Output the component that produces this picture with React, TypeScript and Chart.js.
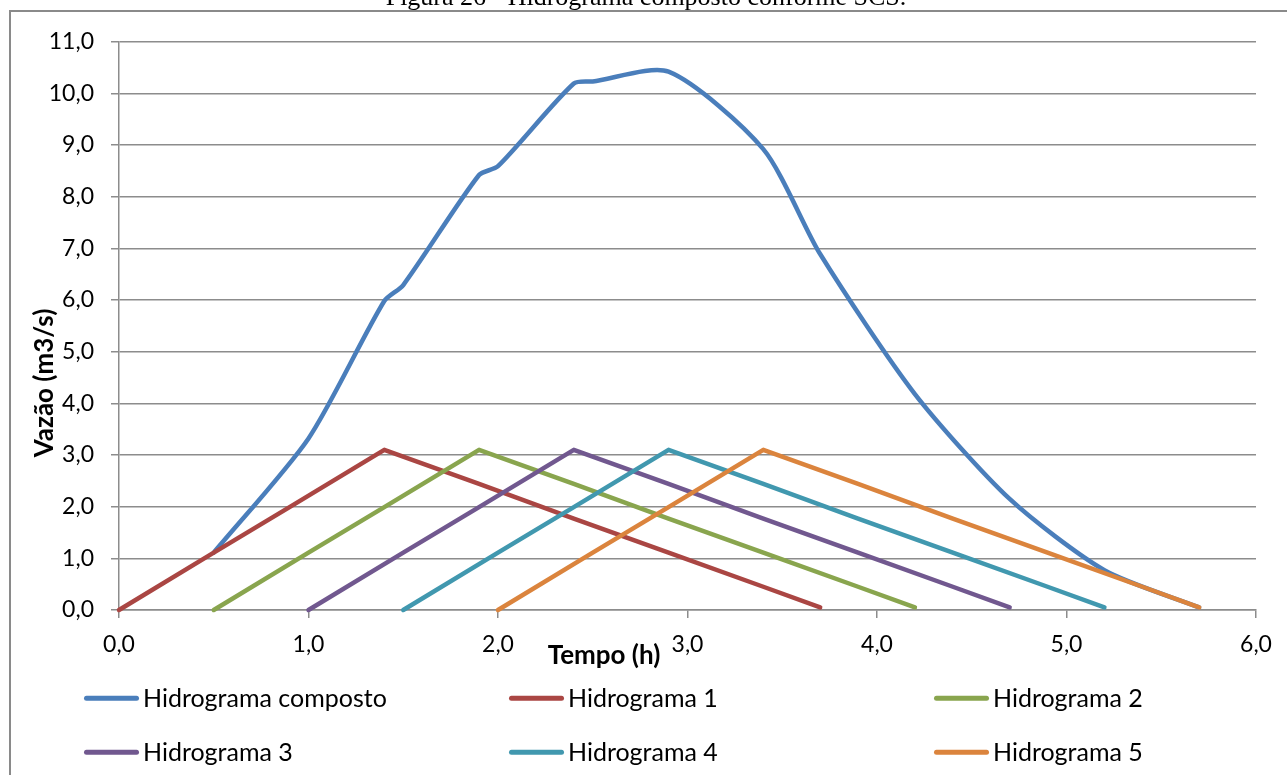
import React, { useEffect, useRef } from 'react';
import { Chart, registerables } from 'chart.js';

Chart.register(...registerables);

// ---------- data ----------
const xTickValues = [0, 1, 2, 3, 4, 5, 6];
const yTickValues = [0, 1, 2, 3, 4, 5, 6, 7, 8, 9, 10, 11];

const seriesNames = [
  'Hidrograma composto',
  'Hidrograma 1',
  'Hidrograma 2',
  'Hidrograma 3',
  'Hidrograma 4',
  'Hidrograma 5',
];
const seriesColors = ['#4A7EBB', '#AA4643', '#89A54E', '#71588F', '#4198AF', '#DB843D'];

const tempoComposto = [0.5, 1.0, 1.4, 1.5, 1.9, 2.0, 2.4, 2.5, 2.9, 3.4, 3.7, 4.2, 4.7, 5.2, 5.7];
const vazaoComposto = [1.11, 3.32, 5.98, 6.29, 8.42, 8.59, 10.19, 10.23, 10.42, 8.92, 6.89, 4.18, 2.15, 0.77, 0.05];

const tempoH1 = [0.0, 0.5, 0.9, 1.4, 1.9, 2.4, 2.9, 3.4, 3.7];
const vazaoH1 = [0.0, 1.11, 1.99, 3.1, 2.44, 1.77, 1.11, 0.45, 0.05];

const tempoH2 = [0.5, 1.0, 1.4, 1.9, 2.4, 2.9, 3.4, 3.9, 4.2];
const vazaoH2 = [0.0, 1.11, 1.99, 3.1, 2.44, 1.77, 1.11, 0.45, 0.05];

const tempoH3 = [1.0, 1.5, 1.9, 2.4, 2.9, 3.4, 3.9, 4.4, 4.7];
const vazaoH3 = [0.0, 1.11, 1.99, 3.1, 2.44, 1.77, 1.11, 0.45, 0.05];

const tempoH4 = [1.5, 2.0, 2.4, 2.9, 3.4, 3.9, 4.4, 4.9, 5.2];
const vazaoH4 = [0.0, 1.11, 1.99, 3.1, 2.44, 1.77, 1.11, 0.45, 0.05];

const tempoH5 = [2.0, 2.5, 2.9, 3.4, 3.9, 4.4, 4.9, 5.4, 5.7];
const vazaoH5 = [0.0, 1.11, 1.99, 3.1, 2.44, 1.77, 1.11, 0.45, 0.05];

const chartTitle = 'Figura 26 - Hidrograma composto conforme SCS.';
const xAxisTitle = 'Tempo (h)';
const yAxisTitle = 'Vazão (m3/s)';

// ---------- helpers ----------
const W = 1287;
const H = 775;
const FONT = 'Lato, "Open Sans", sans-serif';
const GRID = '#8c8c8c';

function toPoints(xs: number[], ys: number[]) {
  return xs.map((x, i) => ({ x, y: ys[i] }));
}

const fmt = (v: number) => v.toFixed(1).replace('.', ',');

const decorPlugin = {
  id: 'decor',
  beforeDraw(chart: any) {
    const ctx = chart.ctx as CanvasRenderingContext2D;
    ctx.save();
    ctx.fillStyle = '#ffffff';
    ctx.fillRect(0, 0, W, H);
    ctx.strokeStyle = '#8a8a8a';
    ctx.lineWidth = 2;
    ctx.strokeRect(10, 11, W + 100, H + 100);
    ctx.fillStyle = '#000';
    ctx.font = '26px "Liberation Serif", "Times New Roman", serif';
    ctx.textAlign = 'center';
    ctx.textBaseline = 'alphabetic';
    ctx.fillText(chartTitle, 646, 5);
    ctx.restore();
  },
  afterDraw(chart: any) {
    const ctx = chart.ctx as CanvasRenderingContext2D;
    ctx.save();
    ctx.fillStyle = '#000';
    // x axis title
    ctx.font = `bold 26px ${FONT}`;
    ctx.textAlign = 'center';
    ctx.textBaseline = 'alphabetic';
    ctx.fillText(xAxisTitle, 604, 664);
    // y axis title
    ctx.save();
    ctx.translate(45, 383);
    ctx.rotate(-Math.PI / 2);
    ctx.textBaseline = 'middle';
    ctx.fillText(yAxisTitle, 0, 0);
    ctx.restore();
    // legend (3 columns x 2 rows)
    const colX = [86.5, 511.5, 936.5];
    const rowY = [698.3, 752.3];
    ctx.font = `25px ${FONT}`;
    ctx.textAlign = 'left';
    seriesNames.forEach((name, i) => {
      const c = i % 3;
      const r = Math.floor(i / 3);
      const x0 = colX[c];
      const y0 = rowY[r];
      ctx.strokeStyle = seriesColors[i];
      ctx.lineWidth = 5;
      ctx.lineCap = 'round';
      ctx.beginPath();
      ctx.moveTo(x0, y0);
      ctx.lineTo(x0 + 50, y0);
      ctx.stroke();
      ctx.fillStyle = '#000';
      ctx.fillText(name, x0 + 56.5, y0 + 9);
    });
    ctx.restore();
  },
};

export default function App() {
  const ref = useRef<HTMLCanvasElement | null>(null);

  useEffect(() => {
    if (!ref.current) return;
    const xs = [tempoComposto, tempoH1, tempoH2, tempoH3, tempoH4, tempoH5];
    const ys = [vazaoComposto, vazaoH1, vazaoH2, vazaoH3, vazaoH4, vazaoH5];
    const datasets = seriesNames.map((name, i) => ({
      label: name,
      data: toPoints(xs[i], ys[i]),
      borderColor: seriesColors[i],
      backgroundColor: seriesColors[i],
      borderWidth: 4.5,
      borderCapStyle: 'round' as const,
      borderJoinStyle: 'round' as const,
      pointRadius: 0,
      tension: i === 0 ? 0.25 : 0,
      fill: false,
      clip: false as any,
      order: 10 - i,
    }));

    const chart = new Chart(ref.current, {
      type: 'line',
      data: { datasets },
      options: {
        animation: false,
        responsive: false,
        devicePixelRatio: 1,
        layout: { padding: { top: 41.7, right: 31, left: 0, bottom: 0 } },
        plugins: {
          legend: { display: false },
          tooltip: { enabled: false },
          title: { display: false },
        },
        scales: {
          x: {
            type: 'linear',
            min: 0,
            max: 6,
            afterFit: (s: any) => {
              s.height = 165;
            },
            afterBuildTicks: (s: any) => {
              s.ticks = xTickValues.map((v) => ({ value: v }));
            },
            grid: {
              drawOnChartArea: false,
              drawTicks: true,
              tickLength: 8,
              color: GRID,
              lineWidth: 1.5,
            },
            border: { display: true, color: GRID, width: 1.5 },
            ticks: {
              color: '#000',
              font: { family: FONT, size: 23 },
              padding: 13,
              maxRotation: 0,
              callback: (v: any) => fmt(Number(v)),
            },
          },
          y: {
            type: 'linear',
            min: 0,
            max: 11,
            afterFit: (s: any) => {
              s.width = 119;
            },
            afterBuildTicks: (s: any) => {
              s.ticks = yTickValues.map((v) => ({ value: v }));
            },
            grid: {
              drawOnChartArea: true,
              drawTicks: true,
              tickLength: 8,
              color: GRID,
              lineWidth: 1.5,
            },
            border: { display: true, color: GRID, width: 1.5 },
            ticks: {
              color: '#000',
              font: { family: FONT, size: 23 },
              padding: 17,
              callback: (v: any) => fmt(Number(v)),
            },
          },
        },
      },
      plugins: [decorPlugin],
    });
    return () => chart.destroy();
  }, []);

  return (
    <div style={{ position: 'absolute', left: 0, top: 0, width: W, height: H, overflow: 'hidden', background: '#fff' }}>
      <canvas ref={ref} width={W} height={H} style={{ display: 'block', width: W, height: H }} />
    </div>
  );
}
